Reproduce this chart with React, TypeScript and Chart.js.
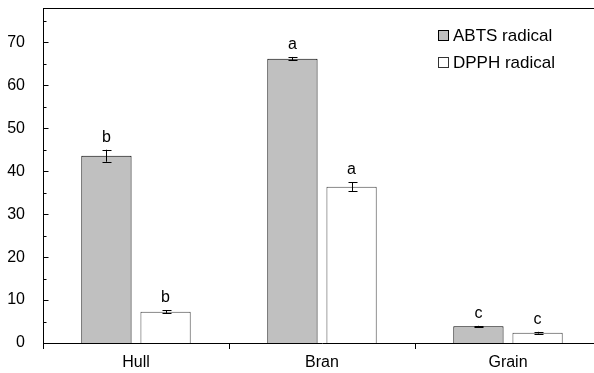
import React, { useEffect, useRef } from "react";
import { Chart, registerables } from "chart.js";

Chart.register(...registerables);

const categories = ["Hull", "Bran", "Grain"];
const abtsValues = [43.6, 66.2, 3.9];
const abtsErrors = [1.4, 0.4, 0.1];
const dpphValues = [7.3, 36.4, 2.4];
const dpphErrors = [0.3, 1.0, 0.2];
const abtsLetters = ["b", "a", "c"];
const dpphLetters = ["b", "a", "c"];
const yTickValues = [0, 10, 20, 30, 40, 50, 60, 70];
const yMinorValues = [5, 15, 25, 35, 45, 55, 65, 75];
const seriesNames = ["ABTS radical", "DPPH radical"];

const FONT = "'Liberation Sans', Arial, sans-serif";

const overlayPlugin = {
  id: "overlay",
  afterDatasetsDraw(chart: any) {
    const ctx = chart.ctx;
    const y = chart.scales.y;
    const area = chart.chartArea;
    const errs = [abtsErrors, dpphErrors];
    const vals = [abtsValues, dpphValues];
    const letters = [abtsLetters, dpphLetters];
    ctx.save();
    chart.data.datasets.forEach((_: any, di: number) => {
      const meta = chart.getDatasetMeta(di);
      meta.data.forEach((el: any, i: number) => {
        const v = vals[di][i];
        const e = errs[di][i];
        const x = Math.round(el.x) + 0.5;
        const yHi = y.getPixelForValue(v + e);
        const yLo = y.getPixelForValue(v - e);
        ctx.strokeStyle = "#000";
        ctx.lineWidth = 1;
        ctx.beginPath();
        ctx.moveTo(x, yHi);
        ctx.lineTo(x, yLo);
        ctx.moveTo(x - 4, Math.round(yHi) + 0.5);
        ctx.lineTo(x + 5, Math.round(yHi) + 0.5);
        ctx.moveTo(x - 4, Math.round(yLo) + 0.5);
        ctx.lineTo(x + 5, Math.round(yLo) + 0.5);
        ctx.stroke();
        ctx.fillStyle = "#000";
        ctx.font = `16px ${FONT}`;
        ctx.textAlign = "center";
        ctx.textBaseline = "alphabetic";
        ctx.fillText(letters[di][i], el.x, yHi - 8);
      });
    });
    ctx.strokeStyle = "#000";
    ctx.lineWidth = 1;
    ctx.beginPath();
    ctx.moveTo(area.left, Math.round(area.top) + 0.5);
    ctx.lineTo(area.right, Math.round(area.top) + 0.5);
    ctx.stroke();
    const ax = Math.round(area.left) + 0.5;
    ctx.beginPath();
    yTickValues.forEach((v) => {
      const py = Math.round(y.getPixelForValue(v)) + 0.5;
      ctx.moveTo(ax, py);
      ctx.lineTo(ax + 5, py);
    });
    yMinorValues.forEach((v) => {
      const py = Math.round(y.getPixelForValue(v)) + 0.5;
      ctx.moveTo(ax, py);
      ctx.lineTo(ax + 3, py);
    });
    ctx.stroke();
    const lx = 438;
    const rows = [
      { y: 30, fill: "#c0c0c0", stroke: "#000" },
      { y: 57, fill: "#ffffff", stroke: "#333" },
    ];
    rows.forEach((r, i) => {
      ctx.fillStyle = r.fill;
      ctx.fillRect(lx + 0.5, r.y + 0.5, 10, 10);
      ctx.strokeStyle = r.stroke;
      ctx.strokeRect(lx + 0.5, r.y + 0.5, 10, 10);
      ctx.fillStyle = "#000";
      ctx.font = `17px ${FONT}`;
      ctx.textAlign = "left";
      ctx.textBaseline = "alphabetic";
      ctx.fillText(seriesNames[i], lx + 15, r.y + 11);
    });
    ctx.restore();
  },
};

export default function App() {
  const ref = useRef<HTMLCanvasElement | null>(null);
  useEffect(() => {
    if (!ref.current) return;
    const chart = new Chart(ref.current, {
      type: "bar",
      data: {
        labels: categories,
        datasets: [
          {
            label: seriesNames[0],
            data: abtsValues,
            backgroundColor: "#c0c0c0",
            borderColor: "#000",
            borderWidth: 1,
            categoryPercentage: 0.636,
            barPercentage: 0.85,
          },
          {
            label: seriesNames[1],
            data: dpphValues,
            backgroundColor: "#ffffff",
            borderColor: "#444",
            borderWidth: 1,
            categoryPercentage: 0.636,
            barPercentage: 0.85,
          },
        ],
      },
      options: {
        responsive: false,
        animation: false,
        devicePixelRatio: 1,
        layout: { padding: { left: 0, top: 8, right: 9, bottom: 0 } },
        plugins: { legend: { display: false }, tooltip: { enabled: false }, title: { display: false } },
        scales: {
          x: {
            offset: true,
            grid: {
              display: true,
              drawOnChartArea: false,
              drawTicks: true,
              tickLength: 6,
              color: "#000",
              offset: true,
            },
            border: { display: true, color: "#000", width: 1 },
            ticks: {
              color: "#000",
              font: { family: FONT, size: 16 },
              padding: 4,
            },
            afterFit: (s: any) => {
              s.height = 30;
              s.paddingLeft = 0;
              s.paddingRight = 0;
            },
          },
          y: {
            min: 0,
            max: 78,
            grid: { display: false, drawTicks: false },
            border: { display: true, color: "#000", width: 1 },
            ticks: {
              color: "#000",
              font: { family: FONT, size: 16 },
              padding: 18,
            },
            afterBuildTicks: (s: any) => {
              s.ticks = yTickValues.map((v) => ({ value: v }));
            },
            afterFit: (s: any) => {
              s.width = 43;
              s.paddingTop = 0;
              s.paddingBottom = 0;
            },
          },
        },
      },
      plugins: [overlayPlugin],
    });
    return () => chart.destroy();
  }, []);
  return (
    <div
      style={{
        position: "fixed",
        left: 0,
        top: 0,
        width: 594,
        height: 373,
        overflow: "hidden",
        background: "#fff",
      }}
    >
      <canvas ref={ref} width={610} height={373} style={{ width: 610, height: 373, display: "block" }} />
    </div>
  );
}
